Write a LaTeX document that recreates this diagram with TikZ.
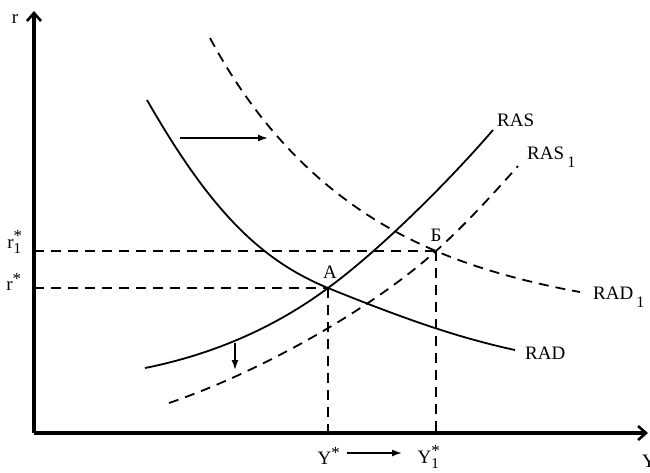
\documentclass[tikz,border=0pt]{standalone}
\usepackage{fontspec}
\setmainfont{Liberation Serif}
\usetikzlibrary{arrows.meta}
\newcommand{\lowone}{\raisebox{-0.42em}{\fontsize{16}{18}\selectfont 1}}
\begin{document}
\begin{tikzpicture}[x=1pt,y=-1pt,
  axis/.style={line width=3.2pt,-{Straight Barb[length=8pt,width=14pt,line width=2.6pt]}},
  curve/.style={line width=1.8pt},
  dcurve/.style={line width=1.8pt,dash pattern=on 10pt off 7pt},
  guide/.style={line width=1.5pt,dash pattern=on 10pt off 7pt},
  shiftarrow/.style={line width=1.6pt,-{Latex[length=10pt,width=7pt]}},
  lbl/.style={font=\fontsize{19}{21}\selectfont,inner sep=1pt}]
\useasboundingbox (0,0) rectangle (650,472);
\coordinate (O) at (34,433);
\coordinate (ytop) at (34,11);
\coordinate (xend) at (648,433);
\coordinate (A) at (328,288);
\coordinate (B) at (436,251);
\coordinate (rA) at (34,288);
\coordinate (rB) at (34,251);
\coordinate (yA) at (328,433);
\coordinate (yB) at (436,433);
\draw[axis] (O) -- (ytop);
\draw[axis] (O) -- (xend);
\node[lbl] (rl) at (15,19) {r};
\node[lbl] (yl) at (649,461) {Y};
\node[lbl] (r1) at (15,242) {r$^{\mbox{\fontsize{17}{18}\selectfont *}}_{\mbox{\fontsize{15}{16}\selectfont 1}}$};
\node[lbl] (r0) at (14,282) {r$^{\mbox{\fontsize{17}{18}\selectfont *}}$};
% guides
\draw[guide] (rA) -- (A);
\draw[guide] (rB) -- (B);
\draw[guide] (A) -- (yA);
\draw[guide] (B) -- (yB);
% RAD
\draw[curve] (147,100) .. controls (210,210) and (260,260) .. (A) .. controls (390,313) and (450,336) .. (515,350);
% RAD1
\draw[dcurve] (210,38) .. controls (270,150) and (350,215) .. (B) .. controls (480,270) and (535,284) .. (580,292);
% RAS
\draw[curve] (145,368) .. controls (225,352) and (285,320) .. (A) .. controls (380,250) and (450,180) .. (493,130);
% RAS1
\draw[dcurve] (169,403) .. controls (260,372) and (370,310) .. (B) .. controls (465,225) and (495,192) .. (518,166);
% labels
\node[lbl] (lA) at (330,272) {A};
\node[lbl] (lB) at (436,235) {Б};
\node[lbl,anchor=west] (lras) at (496,120) {RAS};
\node[lbl,anchor=west] (lras1) at (526,157) {RAS\,\lowone};
\node[lbl,anchor=west] (lrad1) at (592,297) {RAD\,\lowone};
\node[lbl,anchor=west] (lrad) at (524,353) {RAD};
\node[lbl] (ys) at (329,456) {Y$^{\mbox{\fontsize{17}{18}\selectfont *}}$};
\node[lbl] (ys1) at (429,457) {Y$^{\mbox{\fontsize{17}{18}\selectfont *}}_{\mbox{\fontsize{15}{16}\selectfont 1}}$};
\coordinate (ha) at (180,138);
\coordinate (hb) at (268,138);
\coordinate (va) at (235,343);
\coordinate (vb) at (235,370);
\coordinate (ya) at (347,453);
\coordinate (yb) at (402,453);
\draw[shiftarrow] (ha) -- (hb);
\draw[shiftarrow] (va) -- (vb);
\draw[shiftarrow] (ya) -- (yb);
\end{tikzpicture}
\end{document}
